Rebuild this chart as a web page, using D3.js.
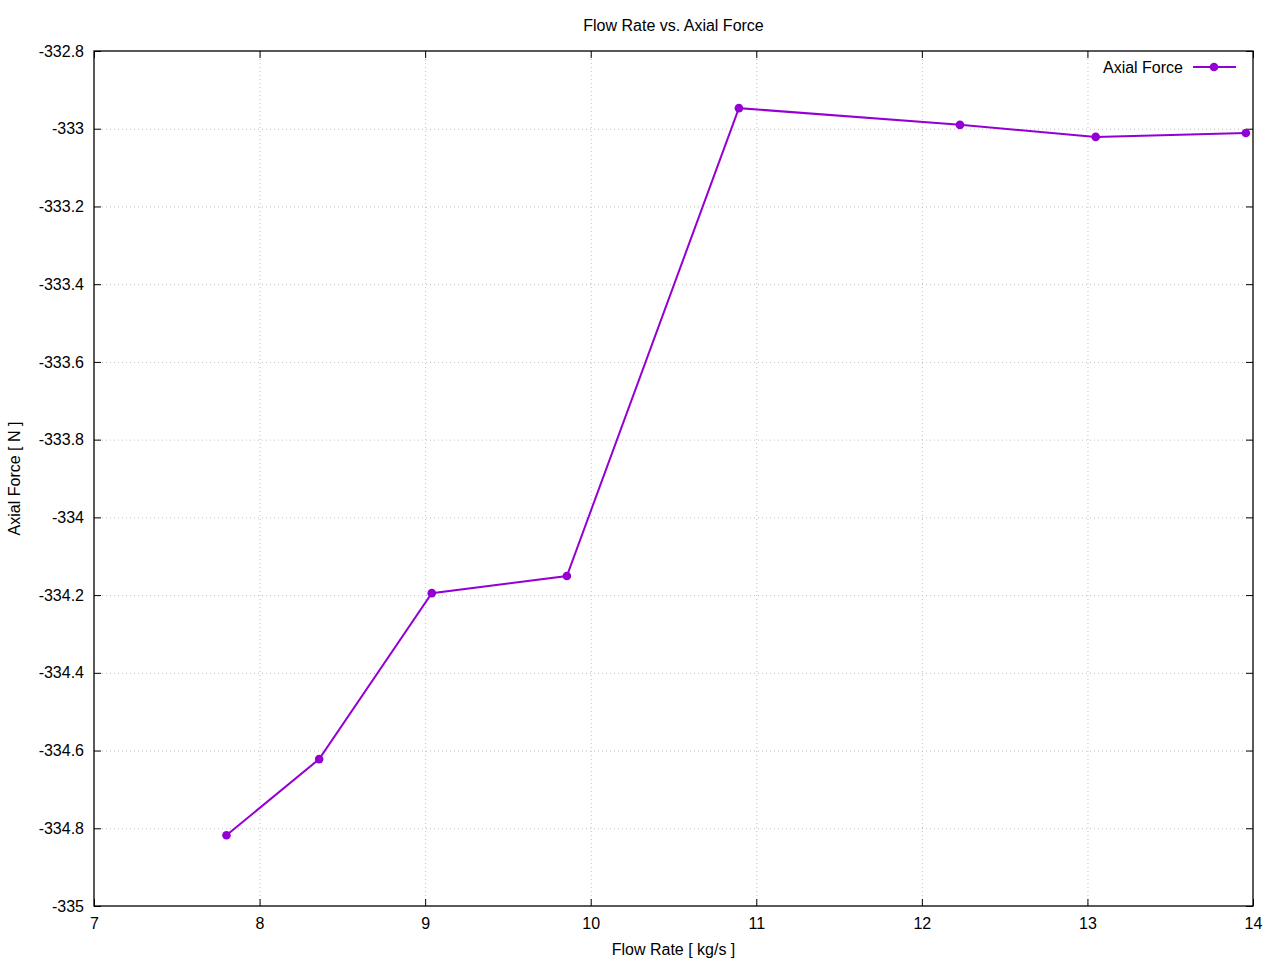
<!DOCTYPE html>
<html lang="en">
<head>
    <meta charset="UTF-8">
    <title>Flow Rate vs. Axial Force</title>
    <script src="https://d3js.org/d3.v7.min.js"></script>
</head>
<style>
    body { margin: 0; background: #fff; }
    svg { font-family: "Liberation Sans", Arial, sans-serif; }
    .grid line { stroke: #c0c0c0; stroke-width: 1px; stroke-dasharray: 1,3; }
</style>
<body>
<div class="chart"></div>
<script>
  // data
  var flowRate = [7.80, 8.36, 9.04, 9.856, 10.895, 12.23, 13.05, 13.957];
  var axialForce = [-334.818, -334.622, -334.195, -334.151, -332.947, -332.990, -333.021, -333.011];
  var xTicks = [7, 8, 9, 10, 11, 12, 13, 14];
  var yTicks = [-335, -334.8, -334.6, -334.4, -334.2, -334, -333.8, -333.6, -333.4, -333.2, -333, -332.8];
  var seriesName = 'Axial Force';
  var lineColor = '#9400d3';

  var svgWidth = 1280, svgHeight = 960;
  var plotLeft = 94, plotRight = 1253, plotTop = 51, plotBottom = 906;
  var tickLen = 7;
  var fontSize = 16;

  var svg = d3.select('.chart').append('svg')
    .attr('width', svgWidth).attr('height', svgHeight);

  var x = d3.scaleLinear().domain([7, 14]).range([plotLeft, plotRight]);
  var y = d3.scaleLinear().domain([-335, -332.8]).range([plotBottom, plotTop]);

  /** grid */
  var grid = svg.append('g').classed('grid', true);
  grid.selectAll('.gx').data(xTicks.slice(1, -1)).enter().append('line')
    .attr('x1', function (d) { return x(d) + 0.5; }).attr('x2', function (d) { return x(d) + 0.5; })
    .attr('y1', plotTop).attr('y2', plotBottom);
  grid.selectAll('.gy').data(yTicks.slice(1, -1)).enter().append('line')
    .attr('y1', function (d) { return y(d) + 0.5; }).attr('y2', function (d) { return y(d) + 0.5; })
    .attr('x1', plotLeft).attr('x2', plotRight);

  /** axes, ticks inward and mirrored */
  function styleAxis(g) {
    g.select('.domain').remove();
    g.selectAll('line').attr('stroke', '#000');
    g.selectAll('text').attr('font-size', fontSize).attr('fill', '#000')
      .attr('font-family', '"Liberation Sans", Arial, sans-serif');
  }
  svg.append('g').attr('transform', 'translate(0,' + plotBottom + ')')
    .call(d3.axisBottom(x).tickValues(xTicks).tickSize(-tickLen).tickPadding(tickLen + 5).tickFormat(d3.format('d')))
    .call(styleAxis);
  svg.append('g').attr('transform', 'translate(0,' + plotTop + ')')
    .call(d3.axisTop(x).tickValues(xTicks).tickSize(-tickLen).tickFormat(''))
    .call(styleAxis);
  svg.append('g').attr('transform', 'translate(' + plotLeft + ',0)')
    .call(d3.axisLeft(y).tickValues(yTicks).tickSize(-tickLen).tickPadding(tickLen + 3)
      .tickFormat(function (d) { return String(+d.toFixed(1)); }))
    .call(styleAxis);
  svg.append('g').attr('transform', 'translate(' + plotRight + ',0)')
    .call(d3.axisRight(y).tickValues(yTicks).tickSize(-tickLen).tickFormat(''))
    .call(styleAxis);

  /** frame */
  svg.append('rect')
    .attr('x', plotLeft).attr('y', plotTop)
    .attr('width', plotRight - plotLeft).attr('height', plotBottom - plotTop)
    .attr('fill', 'none').attr('stroke', '#000').attr('stroke-width', 1.3);

  /** series */
  var pts = flowRate.map(function (d, i) { return [d, axialForce[i]]; });
  svg.append('path').datum(pts)
    .attr('fill', 'none').attr('stroke', lineColor).attr('stroke-width', 2)
    .attr('d', d3.line().x(function (d) { return x(d[0]); }).y(function (d) { return y(d[1]); }));
  svg.selectAll('.pt').data(pts).enter().append('circle')
    .attr('cx', function (d) { return x(d[0]); }).attr('cy', function (d) { return y(d[1]); })
    .attr('r', 4.3).attr('fill', lineColor);

  /** legend */
  var lg = svg.append('g').attr('transform', 'translate(0,67)');
  lg.append('text').attr('x', 1183).attr('y', 6).attr('text-anchor', 'end')
    .attr('font-size', fontSize).text(seriesName);
  lg.append('line').attr('x1', 1193).attr('x2', 1236).attr('y1', 0).attr('y2', 0)
    .attr('stroke', lineColor).attr('stroke-width', 2);
  lg.append('circle').attr('cx', 1214).attr('cy', 0).attr('r', 4.3).attr('fill', lineColor);

  /** titles */
  svg.append('text').attr('x', (plotLeft + plotRight) / 2).attr('y', 31).attr('text-anchor', 'middle')
    .attr('font-size', fontSize).text('Flow Rate vs. Axial Force');
  svg.append('text').attr('x', (plotLeft + plotRight) / 2).attr('y', 955).attr('text-anchor', 'middle')
    .attr('font-size', fontSize).text('Flow Rate [ kg/s ]');
  svg.append('text').attr('transform', 'translate(20,' + (plotTop + plotBottom) / 2 + ') rotate(-90)')
    .attr('text-anchor', 'middle').attr('font-size', fontSize).text('Axial Force [ N ]');
</script>
</body>
</html>
